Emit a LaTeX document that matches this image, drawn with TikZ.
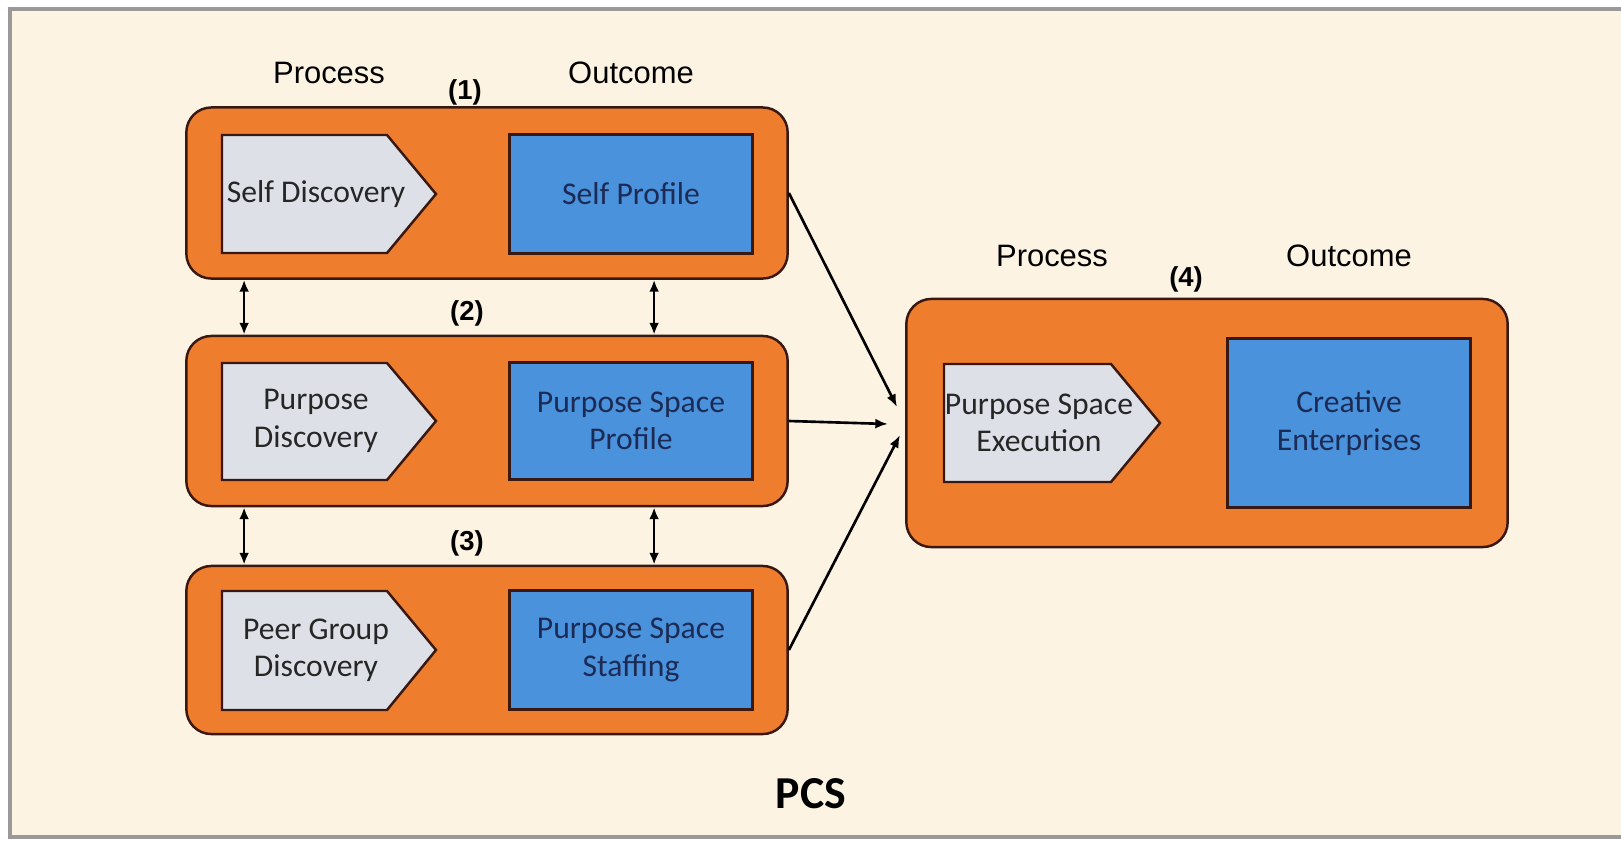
\documentclass[tikz,border=0pt]{standalone}
\usepackage{fontspec}
\setmainfont{Carlito}
\newfontfamily\arialfont{Liberation Sans}
\usetikzlibrary{arrows.meta}
\usetikzlibrary{calc}

\definecolor{cream}{HTML}{FDF3E3}
\definecolor{pcsorange}{HTML}{EE7D2E}
\definecolor{pcsblue}{HTML}{4A92DB}
\definecolor{chevgray}{HTML}{DDE1E7}
\definecolor{edge}{HTML}{3A1812}
\definecolor{navy}{HTML}{1C2B55}

\begin{document}
\begin{tikzpicture}[x=0.01cm, y=-0.01cm,
    stage/.style={rounded corners=0.25cm, fill=pcsorange, draw=edge, line width=0.7pt, minimum width=6.01cm},
    outcome/.style={fill=pcsblue, draw=edge, line width=0.7pt, minimum width=2.43cm, text=navy, align=center, font=\fontsize{9}{10.6}\selectfont},
    chev/.style={fill=chevgray, draw=edge, line width=0.7pt},
    proc/.style={align=center, text=black!85, inner sep=0pt, font=\fontsize{9}{10.6}\selectfont},
    head/.style={font=\arialfont\fontsize{8.8}{10}\selectfont},
    num/.style={font=\arialfont\bfseries\fontsize{7.8}{9}\selectfont},
    link/.style={line width=0.75pt, -{Latex[length=3.6pt,width=2.8pt]}},
    pair/.style={line width=0.75pt, {Latex[length=3.4pt,width=2.8pt]}-{Latex[length=3.4pt,width=2.8pt]}}]
  \useasboundingbox (0,0) rectangle (1621,842);
  \fill[white] (0,0) rectangle (1621,842);
  \filldraw[fill=cream, draw=gray!80, line width=1pt] (10,9) rectangle (1626,837);

  % left column
  \node[stage, minimum height=1.71cm] (s1) at (487,193) {};
  \node[stage, minimum height=1.70cm] (s2) at (487,421) {};
  \node[stage, minimum height=1.68cm] (s3) at (487,650) {};

  \filldraw[chev] (222,135) -- (387,135) -- (436,194) -- (387,253) -- (222,253) -- cycle;
  \filldraw[chev] (222,363) -- (387,363) -- (436,421) -- (387,480) -- (222,480) -- cycle;
  \filldraw[chev] (222,591) -- (387,591) -- (436,650) -- (387,710) -- (222,710) -- cycle;
  \node[proc] (sd) at (316,194) {Self Discovery};
  \node[proc] (pd) at (316,421) {Purpose\\Discovery};
  \node[proc] (gd) at (316,650) {Peer Group\\Discovery};

  \node[outcome, minimum height=1.19cm] (sp) at (631,194) {Self Profile};
  \node[outcome, minimum height=1.17cm] (pp) at (631,421) {Purpose Space\\Profile};
  \node[outcome, minimum height=1.19cm] (ps) at (631,650) {Purpose Space\\Staffing};

  \node[head] (pr1) at (329,73) {Process};
  \node[head] (oc1) at (631,73) {Outcome};
  \node[num] (n1) at (465,92) {(1)};
  \node[num] (n2) at (467,313) {(2)};
  \node[num] (n3) at (467,543) {(3)};

  \draw[pair] ($(s1.south west)+(59,0)$) -- ($(s2.north west)+(59,0)$);
  \draw[pair] ($(s1.south west)+(469,0)$) -- ($(s2.north west)+(469,0)$);
  \draw[pair] ($(s2.south west)+(59,0)$) -- ($(s3.north west)+(59,0)$);
  \draw[pair] ($(s2.south west)+(469,0)$) -- ($(s3.north west)+(469,0)$);

  % right column
  \node[stage, minimum height=2.48cm] (s4) at (1207,423) {};
  \filldraw[chev] (944,364) -- (1111,364) -- (1160,423) -- (1111,482) -- (944,482) -- cycle;
  \node[proc] (pe) at (1039,423) {Purpose Space\\Execution};
  \node[outcome, minimum height=1.69cm] (ce) at (1349,423) {Creative\\Enterprises};

  \node[head] (pr4) at (1052,256) {Process};
  \node[head] (oc4) at (1349,256) {Outcome};
  \node[num] (n4) at (1186,279) {(4)};

  \coordinate (t1) at (897,407);
  \coordinate (t2) at (888,424);
  \coordinate (t3) at (900,435);
  \draw[link] (s1.east) -- (t1);
  \draw[link] (s2.east) -- (t2);
  \draw[link] (s3.east) -- (t3);

  \node[font=\bfseries\fontsize{13}{15}\selectfont] (pcs) at (811,794) {PCS};
\end{tikzpicture}
\end{document}
